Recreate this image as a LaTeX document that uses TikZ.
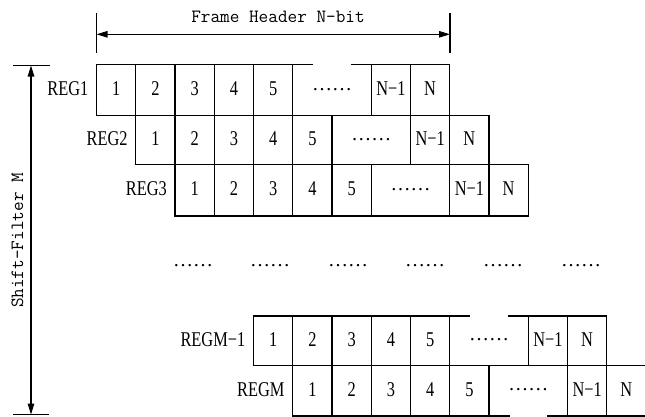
\documentclass[tikz,border=0pt]{standalone}
\usepackage{graphicx}
\usepackage{fontspec}
\setmainfont{Liberation Serif}
\usetikzlibrary{arrows.meta}
\def\cw{39.25}
\newcommand\sq[1]{\scalebox{0.78}[1]{#1}}
\tikzset{
  grid/.style={line width=1.1pt, line cap=rect},
  celltxt/.style={anchor=base, inner sep=0pt, font=\fontsize{21}{21}\selectfont},
  dotstxt/.style={anchor=base, inner sep=0pt, font=\fontsize{20}{20}\selectfont},
  lab/.style={anchor=base east, inner sep=0pt, font=\fontsize{21}{21}\selectfont},
  mono/.style={inner sep=0pt, font=\fontsize{18.7}{18.7}\selectfont\ttfamily},
  dim/.style={line width=1.1pt, {Triangle[length=11pt,width=6.5pt]}-{Triangle[length=11pt,width=6.5pt]}},
  tickline/.style={line width=1.1pt}
}
% #1 name, #2 label, #3 shift, #4 top, #5 bottom, #6 top gap, #7 bottom gap
\newcommand\RegRow[7]{%
  \pgfmathsetmacro\xa{96.5+#3*\cw}%
  \pgfmathsetmacro\ym{(#4+#5)/2}%
  \foreach \i in {0,1,2,3,4,5,7,8,9}{\draw[grid] (\xa+\i*\cw,#4) -- (\xa+\i*\cw,#5);}
  \ifnum#6=1
    \draw[grid] (\xa,#4) -- (\xa+5*\cw+20,#4);
    \draw[grid] (\xa+7*\cw-20,#4) -- (\xa+9*\cw,#4);
  \else
    \draw[grid] (\xa,#4) -- (\xa+9*\cw,#4);
  \fi
  \ifnum#7=1
    \draw[grid] (\xa,#5) -- (\xa+5*\cw+20,#5);
    \draw[grid] (\xa+7*\cw-20,#5) -- (\xa+9*\cw,#5);
  \else
    \draw[grid] (\xa,#5) -- (\xa+9*\cw,#5);
  \fi
  \foreach \i in {1,...,5}{\node[celltxt] (#1-\i) at (\xa+\i*\cw-0.5*\cw,\ym+5.5) {\sq{\i}};}
  \node[dotstxt] (#1-d) at (\xa+6*\cw,\ym) {……};
  \node[celltxt] (#1-n1) at (\xa+7.5*\cw,\ym+5.5) {\sq{N−1}};
  \node[celltxt] (#1-n) at (\xa+8.5*\cw,\ym+5.5) {\sq{N}};
  \node[lab] (#1-lab) at (\xa-8,\ym+5.5) {\sq{#2}};
}
\begin{document}
\begin{tikzpicture}[x=1pt,y=-1pt]
\useasboundingbox (0,0) rectangle (645,416);
% header dimension
\node[mono] (fh) at (278,17) {Frame Header N-bit};
\coordinate (fhLt) at (96.5,13);
\coordinate (fhLb) at (96.5,53);
\coordinate (fhRt) at (450,13);
\coordinate (fhRb) at (450,53);
\coordinate (fhL) at (96.5,34.3);
\coordinate (fhR) at (450,34.3);
\draw[tickline] (fhLt) -- (fhLb);
\draw[tickline] (fhRt) -- (fhRb);
\draw[dim] (fhL) -- (fhR);
% shift filter dimension
\node[mono,rotate=90] (sf) at (17.5,240.5) {Shift-Filter M};
\coordinate (sfTl) at (13,65.5);
\coordinate (sfTr) at (50,65.5);
\coordinate (sfBl) at (13,414.5);
\coordinate (sfBr) at (49,414.5);
\coordinate (sfT) at (31,65.5);
\coordinate (sfB) at (31,414.5);
\draw[tickline] (sfTl) -- (sfTr);
\draw[tickline] (sfBl) -- (sfBr);
\draw[dim] (sfT) -- (sfB);
% registers
\RegRow{r1}{REG1}{0}{64.5}{115.7}{1}{0}
\RegRow{r2}{REG2}{1}{115.7}{164.3}{0}{0}
\RegRow{r3}{REG3}{2}{164.3}{216}{0}{0}
\RegRow{rm1}{REGM−1}{4}{316}{365.7}{1}{0}
\RegRow{rm}{REGM}{5}{365.7}{416}{0}{1}
% middle dots
\foreach \x [count=\k] in {193,270,348,425,503,581}
  \node[dotstxt] (md\k) at (\x,266.8) {……};
\end{tikzpicture}
\end{document}
